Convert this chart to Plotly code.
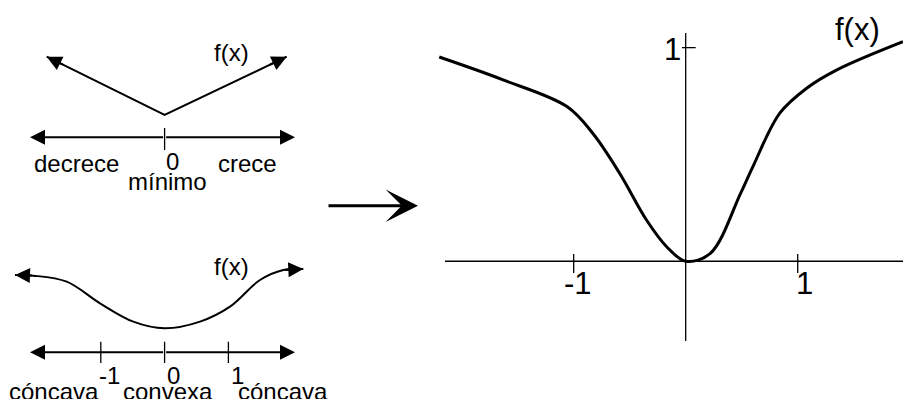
import plotly.graph_objects as go

# ---------------- data ----------------
# main chart: f(x)
main_x = [-2.20, -1.63, -1.06, -0.83, -0.59, -0.35, -0.17, 0.0, 0.22, 0.49, 0.60, 0.84, 1.08, 1.35, 1.94]
main_y = [0.956, 0.849, 0.724, 0.599, 0.412, 0.193, 0.068, 0.0, 0.037, 0.318, 0.443, 0.693, 0.810, 0.896, 1.028]
main_xticks = [-1, 1]
main_xtick_labels = ["-1", "1"]
main_yticks = [1]
main_ytick_labels = ["1"]

# top-left: V shape (monotonía)
v_x = [-1.848, 0.0, 1.914]
v_y = [1.263, 0.35, 1.263]
top_ticks = [0]
top_tick_labels = ["0"]
top_regions = ["decrece", "crece"]
top_min_label = "mínimo"

# bottom-left: curvature sketch
curve_x = [-2.345, -2.058, -1.534, -1.013, -0.491, 0.0, 0.555, 1.025, 1.495, 1.860, 2.174]
curve_y = [1.212, 1.201, 1.107, 0.768, 0.480, 0.376, 0.480, 0.715, 1.133, 1.290, 1.306]
bot_ticks = [-1, 0, 1]
bot_tick_labels = ["-1", "0", "1"]
bot_regions = ["cóncava", "convexa", "cóncava"]

FONT = "Liberation Sans, Arial, sans-serif"
BLACK = "black"
SMALL = 24
BIG = 31

fig = go.Figure()

# ---------- axes layout ----------
W, H = 903, 399
fig.update_layout(
    xaxis=dict(domain=[420 / W, 1.0], range=[-2.372, 1.940], visible=False, fixedrange=True),
    yaxis=dict(domain=[0, 1], range=[-0.645, 1.223], visible=False, fixedrange=True),
    xaxis2=dict(domain=[0, 310 / W], range=[-2.58, 2.279], visible=False, anchor="y2"),
    yaxis2=dict(domain=[1 - 200 / H, 1], range=[-0.983, 2.152], visible=False, anchor="x2"),
    xaxis3=dict(domain=[0, 310 / W], range=[-2.58, 2.279], visible=False, anchor="y3"),
    yaxis3=dict(domain=[0, 199 / H], range=[-0.732, 2.387], visible=False, anchor="x3"),
)

def seg_trace(xs, ys, xa, ya, width):
    fig.add_trace(go.Scatter(x=xs, y=ys, mode="lines", xaxis=xa, yaxis=ya,
                             line=dict(color=BLACK, width=width), hoverinfo="skip",
                             showlegend=False))

# ---------- main chart ----------
seg_trace([-2.149, 1.94], [0, 0], "x", "y", 1.3)
seg_trace([0, 0], [-0.373, 1.068], "x", "y", 1.3)
tx, ty = [], []
for t in main_xticks:
    tx += [t, t, None]
    ty += [0.034, -0.055, None]
for t in main_yticks:
    tx += [-0.033, 0.089, None]
    ty += [t, t, None]
seg_trace(tx, ty, "x", "y", 1.3)
fig.add_trace(go.Scatter(x=main_x, y=main_y, mode="lines", line=dict(color=BLACK, width=3, shape="spline", smoothing=1.0),
                         hoverinfo="skip", showlegend=False))

annotations = []
for t, lab in zip(main_xticks, main_xtick_labels):
    annotations.append(dict(x=t, y=0, xref="x", yref="y", text=lab, showarrow=False,
                            xshift=4 if t < 0 else 7, yshift=-22, font=dict(size=BIG, family=FONT, color=BLACK)))
for t, lab in zip(main_yticks, main_ytick_labels):
    annotations.append(dict(x=0, y=t, xref="x", yref="y", text=lab, showarrow=False,
                            xshift=-13, yshift=-2, font=dict(size=BIG, family=FONT, color=BLACK)))
annotations.append(dict(x=1.538, y=1.083, xref="x", yref="y", text="f(x)", showarrow=False,
                        font=dict(size=BIG, family=FONT, color=BLACK)))

# ---------- top-left ----------
fig.add_trace(go.Scatter(x=v_x, y=v_y, xaxis="x2", yaxis="y2", mode="lines",
                         line=dict(color=BLACK, width=2), showlegend=False, hoverinfo="skip"))
for (x0, y0, x1, y1) in [(v_x[1], v_y[1], v_x[0], v_y[0]), (v_x[1], v_y[1], v_x[2], v_y[2])]:
    annotations.append(dict(x=x1, y=y1, ax=x0 + 0.85 * (x1 - x0), ay=y0 + 0.85 * (y1 - y0),
                            xref="x2", yref="y2", axref="x2", ayref="y2", text="", showarrow=True,
                            arrowhead=2, arrowsize=1.5, arrowwidth=2, arrowcolor=BLACK, standoff=0))
for end in (-2.110, 2.044):
    annotations.append(dict(x=end, y=0, ax=0, ay=0, xref="x2", yref="y2", axref="x2", ayref="y2",
                            text="", showarrow=True, arrowhead=2, arrowsize=1.5, arrowwidth=2,
                            arrowcolor=BLACK, standoff=0))
tx, ty = [], []
for t in top_ticks:
    tx += [t, t, None]
    ty += [0.146, -0.199, None]
seg_trace(tx, ty, "x2", "y2", 1.3)
for t, lab in zip(top_ticks, top_tick_labels):
    annotations.append(dict(x=t, y=0, xref="x2", yref="y2", text=lab, showarrow=False,
                            xshift=8, yshift=-24, font=dict(size=SMALL, family=FONT, color=BLACK)))
annotations.append(dict(x=-1.378, y=-0.403, xref="x2", yref="y2", text=top_regions[0], showarrow=False,
                        font=dict(size=SMALL, family=FONT, color=BLACK)))
annotations.append(dict(x=1.292, y=-0.403, xref="x2", yref="y2", text=top_regions[1], showarrow=False,
                        font=dict(size=SMALL, family=FONT, color=BLACK)))
annotations.append(dict(x=0.053, y=-0.690, xref="x2", yref="y2", text=top_min_label, showarrow=False,
                        font=dict(size=SMALL, family=FONT, color=BLACK)))
annotations.append(dict(x=1.041, y=1.329, xref="x2", yref="y2", text="f(x)", showarrow=False,
                        font=dict(size=SMALL, family=FONT, color=BLACK)))

# ---------- bottom-left ----------
fig.add_trace(go.Scatter(x=curve_x, y=curve_y, xaxis="x3", yaxis="y3", mode="lines",
                         line=dict(color=BLACK, width=2, shape="spline", smoothing=1.0),
                         showlegend=False, hoverinfo="skip"))
for (i0, i1) in [(1, 0), (-2, -1)]:
    annotations.append(dict(x=curve_x[i1], y=curve_y[i1], ax=curve_x[i0], ay=curve_y[i0],
                            xref="x3", yref="y3", axref="x3", ayref="y3", text="", showarrow=True,
                            arrowhead=2, arrowsize=1.5, arrowwidth=2, arrowcolor=BLACK, standoff=0))
for end in (-2.110, 2.044):
    annotations.append(dict(x=end, y=0, ax=0, ay=0, xref="x3", yref="y3", axref="x3", ayref="y3",
                            text="", showarrow=True, arrowhead=2, arrowsize=1.5, arrowwidth=2,
                            arrowcolor=BLACK, standoff=0))
tx, ty = [], []
for t in bot_ticks:
    tx += [t, t, None]
    ty += [0.166, -0.168, None]
seg_trace(tx, ty, "x3", "y3", 1.3)
for t, lab in zip(bot_ticks, bot_tick_labels):
    annotations.append(dict(x=t, y=0, xref="x3", yref="y3", text=lab, showarrow=False,
                            xshift=9, yshift=-23, font=dict(size=SMALL, family=FONT, color=BLACK)))
for xc, lab in zip([-1.734, 0.053, 1.856], bot_regions):
    annotations.append(dict(x=xc, y=-0.62, xref="x3", yref="y3", text=lab, showarrow=False,
                            font=dict(size=SMALL, family=FONT, color=BLACK)))
annotations.append(dict(x=1.041, y=1.342, xref="x3", yref="y3", text="f(x)", showarrow=False,
                        font=dict(size=SMALL, family=FONT, color=BLACK)))

# ---------- middle arrow ----------
annotations.append(dict(x=418 / W, y=1 - 205.7 / H, ax=-91, ay=0,
                        xref="paper", yref="paper", axref="pixel", ayref="pixel", text="",
                        showarrow=True, arrowhead=3, arrowsize=1.8, arrowwidth=3,
                        arrowcolor=BLACK, standoff=0))

fig.update_layout(width=W, height=H, margin=dict(l=0, r=0, t=0, b=0),
                  paper_bgcolor="white", plot_bgcolor="white",
                  annotations=annotations, showlegend=False)

fig.write_html("out.html", config={"displayModeBar": False},
               post_script="document.body.style.margin='0';document.body.style.overflow='hidden';")
